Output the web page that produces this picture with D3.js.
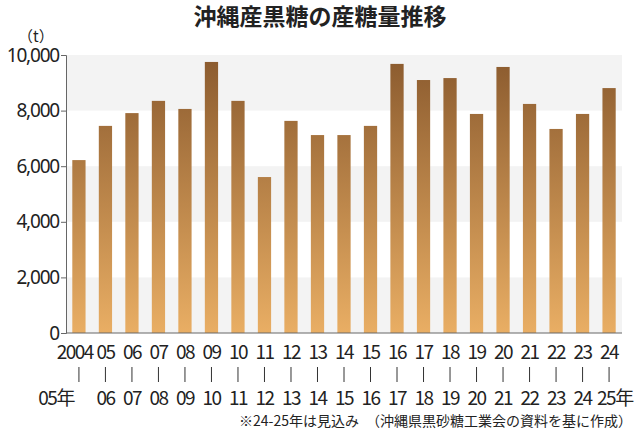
<!DOCTYPE html><html><head><meta charset="utf-8"><script src="https://cdn.jsdelivr.net/npm/d3@7"></script>
<style>body{margin:0;background:#fff}text{font-family:"Noto Sans CJK JP",sans-serif}</style></head><body><svg width="640" height="432"></svg><script>
const years1=["2004","05","06","07","08","09","10","11","12","13","14","15","16","17","18","19","20","21","22","23","24"];
const years2=["05年","06","07","08","09","10","11","12","13","14","15","16","17","18","19","20","21","22","23","24","25年"];
const values=[6220,7450,7910,8350,8060,9750,8350,5610,7630,7120,7120,7450,9680,9100,9170,7880,9570,8240,7340,7880,8810];
const yTicks=[0,2000,4000,6000,8000,10000];
const svg=d3.select("svg");
const L=66,R=622,T=55,B=333;
const x=d3.scaleBand().domain(years1).range([L+1,R-1]).paddingInner(0.5).paddingOuter(0.2);
const y=d3.scaleLinear().domain([0,10000]).range([B,T]);
const g=svg.append("defs").append("linearGradient").attr("id","gr").attr("x1",0).attr("x2",0).attr("gradientUnits","userSpaceOnUse").attr("y1",T).attr("y2",B);
g.append("stop").attr("offset",0).attr("stop-color","#8a5a2e");
g.append("stop").attr("offset",1).attr("stop-color","#e9ae64");
[[8000,10000],[4000,6000],[0,2000]].forEach(b=>svg.append("rect").attr("x",L).attr("width",R-L).attr("y",y(b[1])).attr("height",y(b[0])-y(b[1])).attr("fill","#f3f3f3"));
svg.selectAll(".bar").data(values).join("rect").attr("x",(d,i)=>x(years1[i])).attr("width",x.bandwidth()).attr("y",d=>y(d)).attr("height",d=>B-y(d)).attr("fill","url(#gr)");
const ax=svg.append("g").attr("transform",`translate(${L},0)`).call(d3.axisLeft(y).tickValues(yTicks).tickFormat(d3.format(",")).tickSize(5).tickPadding(2));
ax.select(".domain").attr("stroke","#666");ax.selectAll("line").attr("stroke","#666");
ax.selectAll("text").attr("font-size",19).attr("fill","#222").style("font-family","'Noto Sans',sans-serif").attr("letter-spacing","-1.2");
svg.append("line").attr("x1",L).attr("x2",R).attr("y1",B).attr("y2",B).attr("stroke","#666");
svg.append("text").attr("x",18).attr("y",42).attr("font-size",15).text("（t）").attr("fill","#222");
svg.append("text").attr("x",320).attr("y",25).attr("text-anchor","middle").attr("font-size",23).attr("font-weight","bold").attr("fill","#222").text("沖縄産黒糖の産糖量推移");
const cx=i=>x(years1[i])+x.bandwidth()/2;
const lab=svg.append("g").attr("font-size",19).attr("fill","#222").attr("letter-spacing","-1.5").style("font-family","'Noto Sans',sans-serif");
const n=years1.length-1;
years1.forEach((t,i)=>lab.append("text").attr("x",i===0?cx(i)+14:cx(i)).attr("text-anchor",i===0?"end":"middle").attr("y",359).text(t));
years2.forEach((t,i)=>lab.append("text").attr("x",i===0?cx(i)-5:i===n?cx(i)-12:cx(i)).attr("text-anchor",i===0?"end":i===n?"start":"middle").attr("y",405).text(t));
years1.forEach((t,i)=>svg.append("line").attr("x1",cx(i)).attr("x2",cx(i)).attr("y1",367).attr("y2",382).attr("stroke","#333"));
svg.append("text").attr("x",632).attr("y",426).attr("text-anchor","end").attr("font-size",14).attr("fill","#222").text("※24-25年は見込み　（沖縄県黒砂糖工業会の資料を基に作成）");
</script></body></html>
